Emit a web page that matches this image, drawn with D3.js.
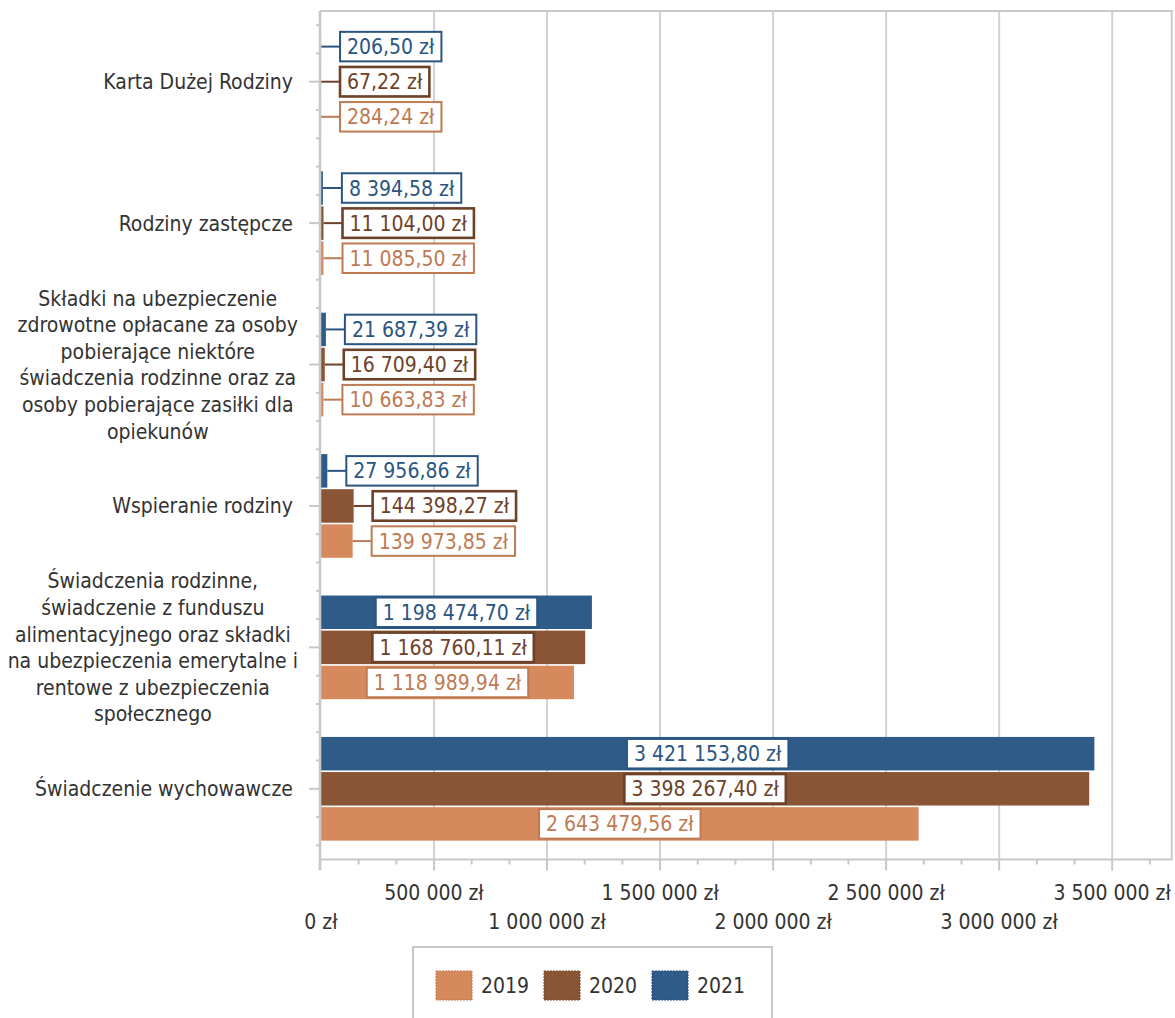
<!DOCTYPE html>
<html><head><meta charset="utf-8">
<script src="https://cdn.jsdelivr.net/npm/d3@7"></script>
<style>body{margin:0;background:#fff} svg{display:block}</style>
</head><body><svg id="c" width="1175" height="1018"></svg>
<script>
// ---------- DATA ----------
const categories = [
  "Karta Dużej Rodziny",
  "Rodziny zastępcze",
  "Składki na ubezpieczenie zdrowotne opłacane za osoby pobierające niektóre świadczenia rodzinne oraz za osoby pobierające zasiłki dla opiekunów",
  "Wspieranie rodziny",
  "Świadczenia rodzinne, świadczenie z funduszu alimentacyjnego oraz składki na ubezpieczenia emerytalne i rentowe z ubezpieczenia społecznego",
  "Świadczenie wychowawcze"
];
const categoryLines = [
  ["Karta Dużej Rodziny"],
  ["Rodziny zastępcze"],
  ["Składki na ubezpieczenie", "zdrowotne opłacane za osoby", "pobierające niektóre", "świadczenia rodzinne oraz za", "osoby pobierające zasiłki dla", "opiekunów"],
  ["Wspieranie rodziny"],
  ["Świadczenia rodzinne,", "świadczenie z funduszu", "alimentacyjnego oraz składki", "na ubezpieczenia emerytalne i", "rentowe z ubezpieczenia", "społecznego"],
  ["Świadczenie wychowawcze"]
];
const seriesNames = ["2019", "2020", "2021"];
const values2019 = [284.24, 11085.50, 10663.83, 139973.85, 1118989.94, 2643479.56];
const values2020 = [67.22, 11104.00, 16709.40, 144398.27, 1168760.11, 3398267.40];
const values2021 = [206.50, 8394.58, 21687.39, 27956.86, 1198474.70, 3421153.80];
const xTickValues = [0, 500000, 1000000, 1500000, 2000000, 2500000, 3000000, 3500000];

// ---------- STYLE ----------
const FONT = "'DejaVu Sans Condensed', 'DejaVu Sans', sans-serif";
const FS = 21;
const barColor = {"2019": "#D6895D", "2020": "#8A5535", "2021": "#2E5B88"};
const lblColor = {"2019": "#BE7A52", "2020": "#6E4129", "2021": "#2B5581"};
const lblStroke = {"2019": 2, "2020": 2.6, "2021": 2};
const textColor = "#333";

const seriesValues = {"2019": values2019, "2020": values2020, "2021": values2021};
const data = categories.map((c, i) => ({cat: c, lines: categoryLines[i],
  vals: seriesNames.map(s => ({s, v: seriesValues[s][i]}))}));

const svg = d3.select("#c").attr("font-family", FONT).style("font-stretch", "condensed");

const plotL = 321, plotR = 1171.7, plotT = 11, plotB = 859.5;
const maxV = d3.max([...values2019, ...values2020, ...values2021]);
const x = d3.scaleLinear().domain([0, maxV * 1.1]).range([plotL, plotR]);
const y = d3.scaleBand().domain(categories).range([plotT, plotB]).padding(0);
const yInner = d3.scaleBand().domain(["2021", "2020", "2019"]).range([0, y.bandwidth()])
  .paddingInner(0.046).paddingOuter(0.537);

const locale = d3.formatLocale({decimal: ",", thousands: " ", grouping: [3], currency: ["", " zł"]});
const fmtVal = locale.format("$,.2f");
const fmtTick = locale.format("$,.0f");

// gridlines
svg.append("g").selectAll("line").data(xTickValues.filter(d => d > 0)).join("line")
  .attr("x1", d => x(d)).attr("x2", d => x(d)).attr("y1", plotT).attr("y2", plotB)
  .attr("stroke", "#D2D2D2").attr("stroke-width", 2);

// frame top / right
svg.append("line").attr("x1", plotL - 1).attr("x2", plotR + 1).attr("y1", plotT).attr("y2", plotT)
  .attr("stroke", "#CACACA").attr("stroke-width", 2);
svg.append("line").attr("x1", plotR).attr("x2", plotR).attr("y1", plotT).attr("y2", plotB)
  .attr("stroke", "#CACACA").attr("stroke-width", 2);

// bars
const gCat = svg.append("g").selectAll("g").data(data).join("g")
  .attr("transform", d => `translate(0,${y(d.cat)})`);
gCat.selectAll("rect").data(d => d.vals).join("rect")
  .attr("x", x(0)).attr("y", d => yInner(d.s))
  .attr("width", d => Math.max(0, x(d.v) - x(0)))
  .attr("height", yInner.bandwidth())
  .attr("fill", d => barColor[d.s]);

// axes lines
svg.append("line").attr("x1", plotL - 1).attr("x2", plotL - 1).attr("y1", plotT).attr("y2", plotB + 11)
  .attr("stroke", "#C8C8C8").attr("stroke-width", 2.6);
svg.append("line").attr("x1", plotL - 2).attr("x2", plotR + 1).attr("y1", plotB).attr("y2", plotB)
  .attr("stroke", "#C8C8C8").attr("stroke-width", 2.2);

// x ticks
const minorStep = 500000 / 3;
const minorTicks = d3.range(1, Math.floor(x.domain()[1] / minorStep) + 1).filter(k => k % 3 !== 0).map(k => k * minorStep);
svg.append("g").selectAll("line").data(minorTicks).join("line")
  .attr("x1", d => x(d)).attr("x2", d => x(d)).attr("y1", plotB).attr("y2", plotB + 5)
  .attr("stroke", "#C8C8C8").attr("stroke-width", 2);
svg.append("g").selectAll("line").data(xTickValues.filter(d => d > 0)).join("line")
  .attr("x1", d => x(d)).attr("x2", d => x(d)).attr("y1", plotB).attr("y2", plotB + 11)
  .attr("stroke", "#C8C8C8").attr("stroke-width", 2);
svg.append("g").selectAll("text").data(xTickValues).join("text")
  .attr("x", d => x(d)).attr("y", (d, i) => i % 2 === 0 ? 929 : 900)
  .attr("text-anchor", "middle").attr("font-size", FS).attr("fill", textColor)
  .text(d => fmtTick(d));

// y ticks
const yTicks = [];
categories.forEach(c => {
  const cy = y(c) + y.bandwidth() / 2;
  for (let k = -2; k <= 2; k++) yTicks.push({y: cy + k * y.bandwidth() / 5, major: k === 0});
});
svg.append("g").selectAll("line").data(yTicks).join("line")
  .attr("x1", d => d.major ? 309 : 316).attr("x2", plotL - 2).attr("y1", d => d.y).attr("y2", d => d.y)
  .attr("stroke", "#C8C8C8").attr("stroke-width", 2);

// category labels
const lineH = 26.6;
data.forEach(d => {
  const cy = y(d.cat) + y.bandwidth() / 2;
  const g = svg.append("g");
  const n = d.lines.length;
  const labelRight = n > 1 ? 298 : 293;
  const ts = g.selectAll("text").data(d.lines).join("text")
    .attr("y", (t, i) => cy + (i - (n - 1) / 2) * lineH + 7.5)
    .attr("text-anchor", "middle").attr("font-size", FS).attr("fill", textColor)
    .text(t => t);
  let maxW = 0;
  ts.each(function() { maxW = Math.max(maxW, this.getComputedTextLength()); });
  ts.attr("x", labelRight - maxW / 2);
});

// data labels
const boxH = 29.5, padX = 7, gapOut = 19;
gCat.each(function(d) {
  const g = d3.select(this);
  d.vals.forEach(p => {
    const yc = yInner(p.s) + yInner.bandwidth() / 2;
    const x0 = x(0), x1 = x(p.v);
    const lg = g.append("g");
    const box = lg.append("rect");
    const t = lg.append("text").attr("font-size", FS).attr("fill", lblColor[p.s])
      .attr("text-anchor", "middle").attr("y", yc + 7.5).text(fmtVal(p.v));
    const tw = t.node().getComputedTextLength();
    const bw = tw + 2 * padX;
    let bx;
    if (x1 - x0 >= bw + 8) {
      bx = (x0 + x1) / 2 - bw / 2;
    } else {
      bx = x1 + gapOut;
      lg.insert("line", "rect").attr("x1", x1).attr("x2", bx).attr("y1", yc).attr("y2", yc)
        .attr("stroke", lblColor[p.s]).attr("stroke-width", 2);
    }
    box.attr("x", bx).attr("y", yc - boxH / 2).attr("width", bw).attr("height", boxH)
      .attr("fill", "#fff").attr("stroke", lblColor[p.s]).attr("stroke-width", lblStroke[p.s]);
    t.attr("x", bx + bw / 2);
  });
});

// legend
const lg = svg.append("g");
lg.append("rect").attr("x", 413).attr("y", 947).attr("width", 359).attr("height", 100)
  .attr("fill", "#fff").attr("stroke", "#C8C8C8").attr("stroke-width", 2);
const legX = [436, 544, 652];
seriesNames.forEach((s, i) => {
  lg.append("rect").attr("x", legX[i]).attr("y", 971).attr("width", 36).attr("height", 29)
    .attr("fill", barColor[s]).attr("stroke", d3.color(barColor[s]).darker(0.4)).attr("stroke-width", 1)
    .attr("stroke-dasharray", "2,1");
  lg.append("text").attr("x", legX[i] + 45).attr("y", 993).attr("font-size", FS).attr("fill", textColor).text(s);
});
</script></body></html>
